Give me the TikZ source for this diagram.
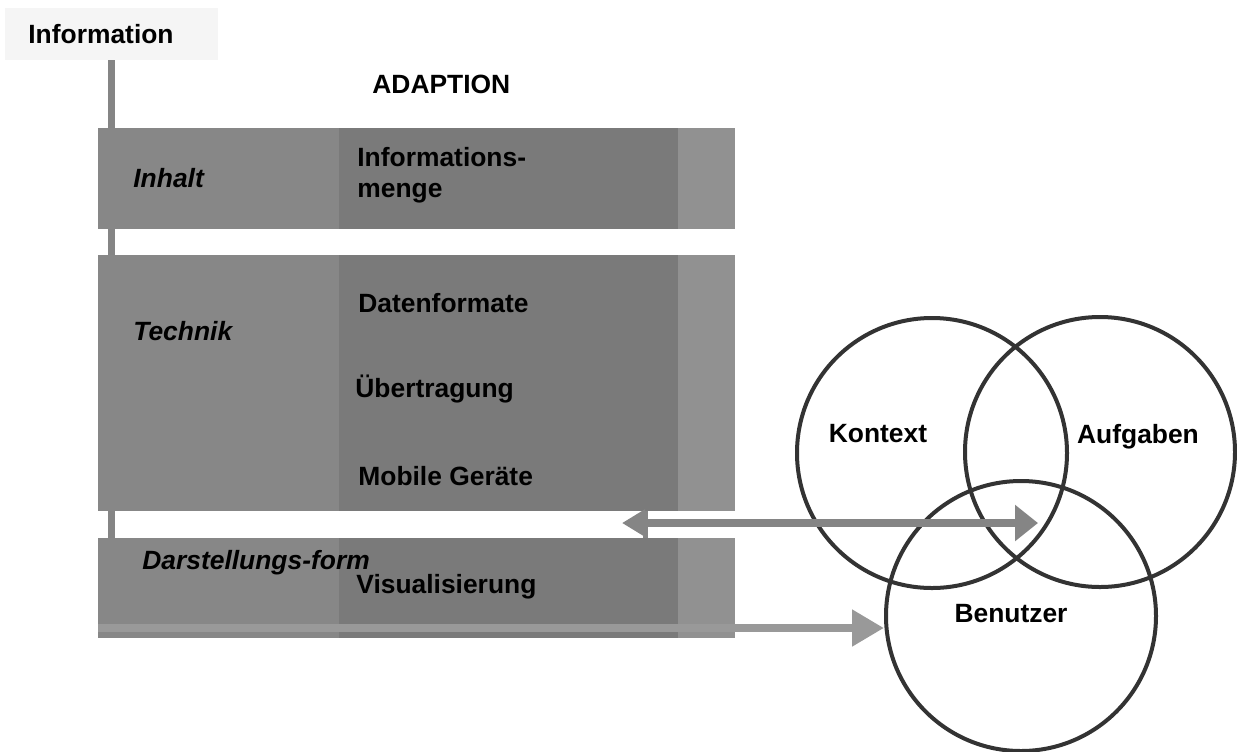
\documentclass[tikz,border=0pt]{standalone}
\usepackage{fontspec}
\setmainfont{Liberation Sans}
\usetikzlibrary{arrows.meta}
\definecolor{bandL}{gray}{0.53}
\definecolor{bandM}{gray}{0.48}
\definecolor{bandR}{gray}{0.57}
\definecolor{linegray}{gray}{0.52}
\definecolor{ringgray}{gray}{0.2}
\tikzset{
  lbl/.style={font=\fontsize{13.2}{16}\selectfont\bfseries, inner sep=0pt, anchor=base west},
  cat/.style={lbl, font=\fontsize{13.2}{16}\selectfont\bfseries\itshape},
  venn/.style={circle, draw=ringgray, line width=2pt, minimum size=135pt, inner sep=0pt},
  flow/.style={draw=linegray, line width=4pt},
}
% one layer of the adaption stack: top, bottom
\newcommand{\schicht}[2]{%
  \fill[bandL] (98,#1) rectangle (339,#2);
  \fill[bandM] (339,#1) rectangle (678,#2);
  \fill[bandR] (678,#1) rectangle (735,#2);}

\begin{document}
\begin{tikzpicture}[x=0.5pt,y=-0.5pt]
    \useasboundingbox (0,0) rectangle (1237,751);
    \fill[black!4] (5,8) rectangle (218,60);
    \node[lbl] (info) at (28,43) {Information};
    \coordinate (itop) at (111,60); \coordinate (ibot) at (111,628);
    \draw[linegray, line width=3.5pt] (itop) -- (ibot);
    \node[lbl] (adaption) at (372,93) {ADAPTION};

    \schicht{128}{229} \schicht{255}{511} \schicht{538}{638}

    \node[cat] (inhalt) at (133,187) {Inhalt};
    \node[lbl] (menge1) at (357,166) {Informations-};
    \node[lbl] (menge2) at (357,197) {menge};
    \node[cat] (technik) at (133,340) {Technik};
    \node[lbl] (daten) at (358,312) {Datenformate};
    \node[lbl] (uebertr) at (355,397) {Übertragung};
    \node[lbl] (geraete) at (358,485) {Mobile Geräte};
    \node[cat] (darst) at (142,569) {Darstellungs-form};
    \node[lbl] (visual) at (356,593) {Visualisierung};

    % the three circles
    \node[venn] (kontext) at (932,453) {};
    \node[venn] (aufgaben) at (1100,452) {};
    \node[venn] (benutzer) at (1021,616) {};
    \node[lbl, anchor=base] (kontextlbl) at (878,442) {Kontext};
    \node[lbl, anchor=base] (aufgabenlbl) at (1138,443) {Aufgaben};
    \node[lbl, anchor=base] (benutzerlbl) at (1011,622) {Benutzer};

    % arrows
    \coordinate (dl) at (622,523); \coordinate (dr) at (1038,523);
    \coordinate (stubtop) at (645,511); \coordinate (stubbot) at (645,538);
    \draw[linegray, line width=2.5pt] (stubtop) -- (stubbot);
    \draw[flow, {Triangle[length=11.5pt,width=13pt]}-{Triangle[length=11.5pt,width=17.5pt]}] (dl) -- (dr);
    \coordinate (lsrc) at (98,628);
    \draw[flow, draw=black!40, -{Triangle[length=16pt,width=17.5pt]}] (lsrc) -- (lsrc -| benutzer.west);
\end{tikzpicture}
\end{document}
